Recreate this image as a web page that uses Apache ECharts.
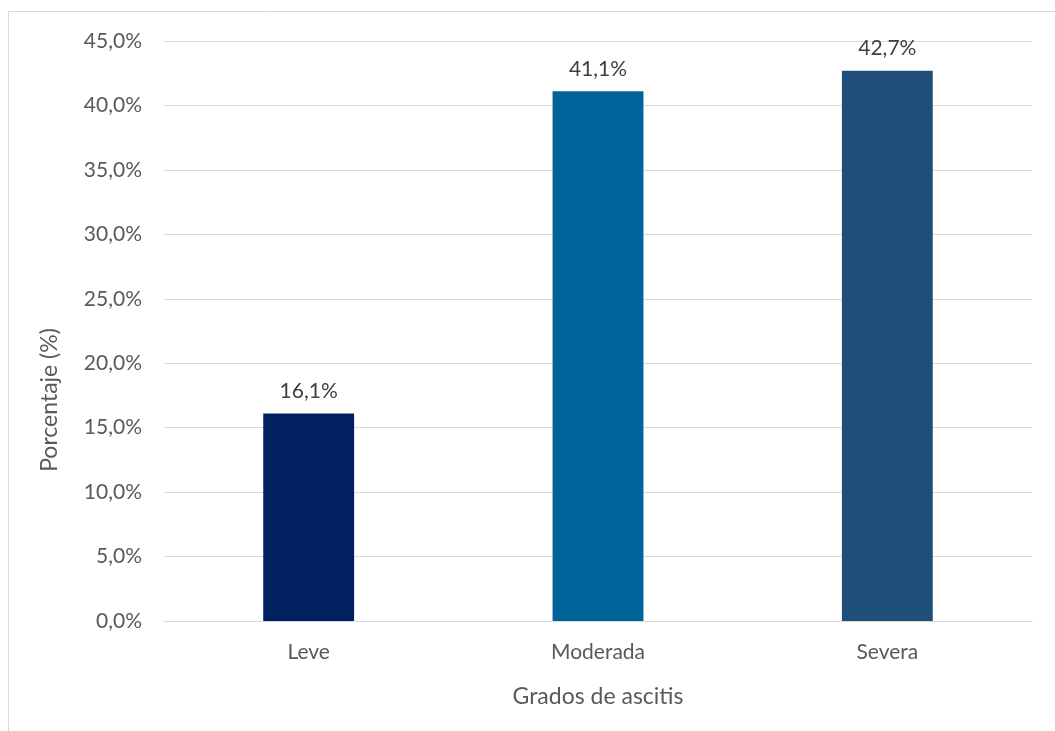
<!DOCTYPE html>
<html>
<head>
<meta charset="utf-8">
<script src="https://cdn.jsdelivr.net/npm/echarts@6/dist/echarts.min.js"></script>
<style>
  html, body { margin: 0; padding: 0; background: #fff; }
  #chart { width: 1055px; height: 731px; }
</style>
</head>
<body>
<div id="chart"></div>
<script>
// Grados de ascitis (%)
const categories = ['Leve', 'Moderada', 'Severa'];
const values = [16.1, 41.1, 42.7];
const barColors = ['#002060', '#00639A', '#1F4E79'];
const yTicks = { min: 0, max: 45, interval: 5 };
const xTitle = 'Grados de ascitis';
const yTitle = 'Porcentaje (%)';

const fontFamily = 'Lato, "Open Sans", sans-serif';
const pct = v => v.toFixed(1).replace('.', ',') + '%';

const chart = echarts.init(document.getElementById('chart'), null, { renderer: 'canvas' });

chart.setOption({
  backgroundColor: '#ffffff',
  animation: false,
  grid: { left: 164, right: 23, top: 41, bottom: 110 },
  xAxis: {
    type: 'category',
    data: categories,
    axisLine: { lineStyle: { color: '#D9D9D9', width: 1 } },
    axisTick: { show: false },
    axisLabel: { color: '#595959', fontSize: 21, fontFamily, margin: 21 },
    name: xTitle,
    nameLocation: 'middle',
    nameGap: 64,
    nameTextStyle: { color: '#595959', fontSize: 23, fontFamily }
  },
  yAxis: {
    type: 'value',
    min: yTicks.min,
    max: yTicks.max,
    interval: yTicks.interval,
    axisLine: { show: false },
    axisTick: { show: false },
    splitLine: { lineStyle: { color: '#D9D9D9', width: 1 } },
    axisLabel: { color: '#595959', fontSize: 21, fontFamily, margin: 22, formatter: pct }
  },
  graphic: [
    {
      type: 'rect',
      shape: { x: 8.5, y: 11.5, width: 1200, height: 900 },
      style: { fill: 'none', stroke: '#D9D9D9', lineWidth: 1 },
      silent: true
    },
    {
      type: 'text',
      x: 50,
      y: 400,
      rotation: Math.PI / 2,
      style: {
        text: yTitle,
        fill: '#595959',
        fontSize: 23,
        fontFamily,
        align: 'center',
        verticalAlign: 'middle'
      }
    }
  ],
  series: [{
    type: 'bar',
    data: values.map((v, i) => ({ value: v, itemStyle: { color: barColors[i] } })),
    barWidth: '31.4%',
    label: {
      show: true,
      position: 'top',
      distance: 12,
      color: '#404040',
      fontSize: 21,
      fontFamily,
      formatter: p => pct(p.value)
    }
  }]
});
</script>
</body>
</html>
